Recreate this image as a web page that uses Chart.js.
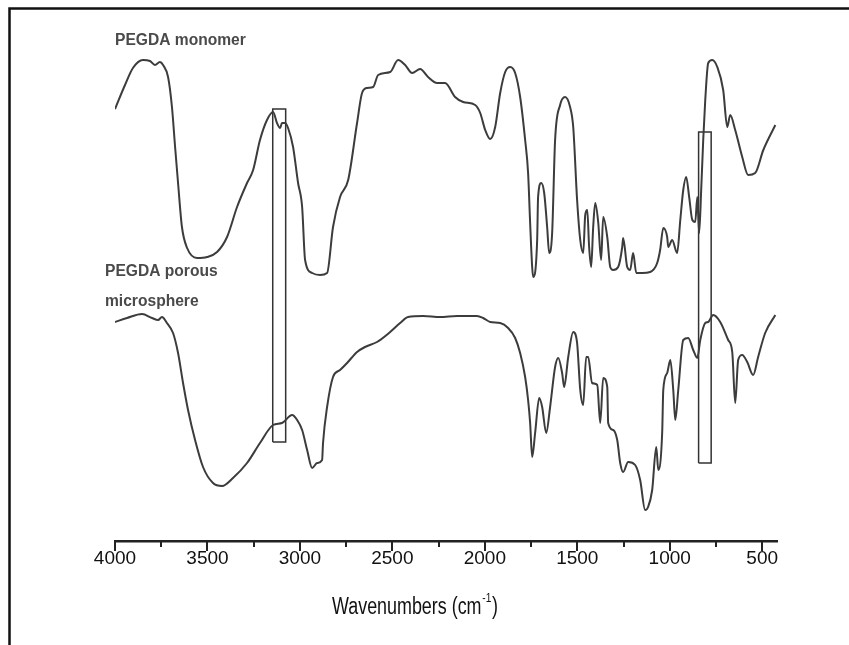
<!DOCTYPE html>
<html>
<head>
<meta charset="utf-8">
<script src="https://cdn.jsdelivr.net/npm/chart.js@4.4.1/dist/chart.umd.min.js"></script>
<style>
  html, body { margin: 0; padding: 0; background: #fff; }
  #wrap { position: relative; width: 849px; height: 645px; }
</style>
</head>
<body>
<div id="wrap"><canvas id="c" width="849" height="645"></canvas></div>
<script>
// ---- data (wavenumber in cm-1, transmittance in arbitrary units) ----
const monomerWavenumbers = [4000,3946,3903,3849,3811,3784,3757,3740,3713,3692,3675,3659,3638,3610,3556,3502,3448,3394,3340,3286,3253,3216,3178,3145,3124,3107,3097,3080,3064,3037,3010,2988,2972,2934,2891,2853,2821,2783,2739,2691,2664,2637,2604,2577,2512,2469,2431,2393,2350,2307,2258,2215,2161,2117,2052,2025,1998,1971,1944,1917,1890,1863,1836,1809,1782,1766,1755,1744,1739,1717,1712,1695,1679,1663,1652,1636,1620,1593,1566,1539,1522,1501,1484,1468,1457,1446,1436,1425,1414,1403,1387,1371,1360,1338,1322,1306,1279,1257,1252,1230,1214,1198,1181,1149,1106,1068,1052,1035,1014,1008,987,960,943,927,911,895,878,862,851,841,830,819,808,792,770,743,711,689,673,646,608,576,538,494,429];
const monomerValues = [432,456,473,481,480,476,479,476,464,434,394,358,314,293,283,284,289,304,334,358,371,401,421,429,418,413,418,418,413,394,358,334,281,268,266,268,314,344,361,418,448,453,454,466,469,481,476,468,472,464,458,458,444,439,436,428,411,402,414,448,469,474,468,444,401,368,318,274,264,301,344,358,348,314,288,308,401,436,444,434,414,341,301,288,326,331,294,274,314,338,319,281,324,304,274,271,274,294,303,274,271,288,268,268,269,278,291,313,304,294,301,288,321,351,364,344,321,319,344,308,351,401,441,478,481,474,451,414,426,411,384,366,368,391,416];

const microsphereWavenumbers = [4000,3935,3854,3800,3767,3746,3719,3686,3659,3632,3605,3567,3524,3470,3421,3362,3286,3216,3145,3097,3042,3015,2988,2961,2934,2907,2880,2875,2853,2821,2783,2745,2691,2648,2583,2512,2458,2415,2334,2242,2150,2042,2009,1971,1917,1874,1836,1809,1782,1766,1755,1744,1728,1706,1690,1668,1647,1620,1603,1582,1571,1549,1522,1501,1484,1468,1452,1441,1420,1392,1376,1360,1338,1333,1306,1284,1268,1252,1225,1187,1160,1133,1117,1095,1073,1062,1041,1035,1014,997,981,970,954,927,900,873,851,835,808,792,765,727,684,662,646,630,608,581,549,522,484,429];
const microsphereValues = [219,223,227,223,221,224,218,208,188,158,131,101,74,58,55,63,78,98,116,118,126,121,111,91,73,78,81,98,134,164,171,178,189,194,199,209,218,224,225,224,225,225,223,219,218,213,203,188,164,141,118,84,108,143,134,108,134,174,183,168,154,184,209,198,151,136,184,184,158,156,118,163,154,118,111,101,78,69,79,76,61,31,34,51,94,71,108,151,168,181,151,121,151,201,203,191,183,201,218,219,226,219,201,189,138,181,186,179,166,184,208,226];

// highlighted bands (wavenumber limits, intensity limits)
const band1 = { from: 3147, to: 3077, low: 99, high: 432 };
const band2 = { from: 844, to: 776, low: 78, high: 409 };

const tickLabels = [4000, 3500, 3000, 2500, 2000, 1500, 1000, 500];
const seriesLabels = ['PEGDA monomer', 'PEGDA porous', 'microsphere'];
const axisTitleMain = 'Wavenumbers (cm';
const axisTitleSup = '-1';
const axisTitleEnd = ')';

// ---- build datasets ----
const toXY = (xs, ys) => xs.map((x, i) => ({ x: x, y: ys[i] }));
const rectPts = b => [
  { x: b.from, y: b.low }, { x: b.from, y: b.high },
  { x: b.to, y: b.high }, { x: b.to, y: b.low }, { x: b.from, y: b.low }
];
const lineColor = '#3c3c3c';

const framePlugin = {
  id: 'frame',
  beforeDraw(chart) {
    const ctx = chart.ctx;
    ctx.save();
    ctx.strokeStyle = '#111';
    ctx.lineWidth = 2.5;
    ctx.beginPath();
    ctx.moveTo(9.5, 660);
    ctx.lineTo(9.5, 8.5);
    ctx.lineTo(860, 8.5);
    ctx.stroke();
    ctx.restore();
  },
  afterDraw(chart) {
    const ctx = chart.ctx;
    const xs = chart.scales.x;
    const y0 = chart.chartArea.bottom;
    ctx.save();
    ctx.strokeStyle = '#222';
    ctx.lineWidth = 2;
    xs.ticks.forEach(t => {
      const px = Math.round(xs.getPixelForValue(t.value));
      const major = t.value % 500 === 0;
      ctx.beginPath();
      ctx.moveTo(px, y0);
      ctx.lineTo(px, y0 + (major ? 10 : 6));
      ctx.stroke();
    });
    // series labels
    ctx.fillStyle = '#4a4a4a';
    ctx.font = 'bold 15.6px "Liberation Sans", Arial, sans-serif';
    ctx.textBaseline = 'middle';
    ctx.textAlign = 'left';
    ctx.fillText(seriesLabels[0], 115, 41);
    ctx.fillText(seriesLabels[1], 105, 272);
    ctx.fillText(seriesLabels[2], 105, 302);

    // axis title with superscript, condensed
    ctx.fillStyle = '#111';
    const mainFont = '23px "Liberation Sans", Arial, sans-serif';
    const supFont = '13px "Liberation Sans", Arial, sans-serif';
    ctx.font = mainFont;
    const w1 = ctx.measureText(axisTitleMain).width;
    const w3 = ctx.measureText(axisTitleEnd).width;
    ctx.font = supFont;
    const w2 = ctx.measureText(axisTitleSup).width;
    const total = w1 + w2 + w3 + 2;
    const sx = 166 / total;
    ctx.translate(415, 606);
    ctx.scale(sx, 1);
    ctx.textBaseline = 'alphabetic';
    let x = -total / 2;
    ctx.font = mainFont;
    ctx.fillText(axisTitleMain, x, 8);
    x += w1 + 1;
    ctx.font = supFont;
    ctx.fillText(axisTitleSup, x, -4);
    x += w2 + 1;
    ctx.font = mainFont;
    ctx.fillText(axisTitleEnd, x, 8);
    ctx.restore();
  }
};

new Chart(document.getElementById('c'), {
  type: 'line',
  data: {
    datasets: [
      { label: seriesLabels[0], data: toXY(monomerWavenumbers, monomerValues), borderColor: lineColor, borderWidth: 2, pointRadius: 0, cubicInterpolationMode: 'monotone', fill: false },
      { label: seriesLabels[1] + ' ' + seriesLabels[2], data: toXY(microsphereWavenumbers, microsphereValues), borderColor: lineColor, borderWidth: 2, pointRadius: 0, cubicInterpolationMode: 'monotone', fill: false },
      { label: 'band1', data: rectPts(band1), borderColor: '#333', borderWidth: 1.5, pointRadius: 0, tension: 0, fill: false },
      { label: 'band2', data: rectPts(band2), borderColor: '#333', borderWidth: 1.5, pointRadius: 0, tension: 0, fill: false }
    ]
  },
  options: {
    responsive: false,
    animation: false,
    events: [],
    layout: { padding: { left: 115, right: 72, top: 30, bottom: 0 } },
    plugins: { legend: { display: false }, tooltip: { enabled: false } },
    scales: {
      x: {
        type: 'linear',
        reverse: true,
        min: 420,
        max: 4000,
        afterFit(scale) { scale.height = 104; },
        border: { display: true, color: '#222', width: 2.5 },
        grid: { display: true, drawOnChartArea: false, drawTicks: true, tickLength: 10, color: 'rgba(0,0,0,0)' },
        ticks: {
          stepSize: 250,
          includeBounds: false,
          autoSkip: false,
          maxRotation: 0,
          padding: -4,
          color: '#111',
          font: { family: '"Liberation Sans", Arial, sans-serif', size: 19 },
          callback: v => (tickLabels.includes(v) ? String(v) : '')
        },
        title: { display: false }
      },
      y: {
        type: 'linear',
        display: false,
        min: 0,
        max: 511
      }
    }
  },
  plugins: [framePlugin]
});
</script>
</body>
</html>
